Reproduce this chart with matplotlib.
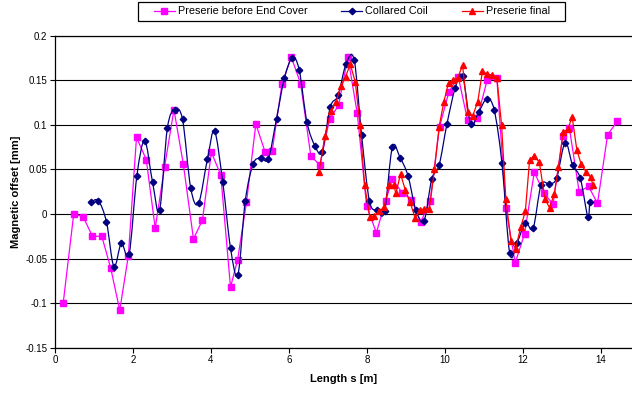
import numpy as np
import matplotlib
matplotlib.use("Agg")
import matplotlib.pyplot as plt
from matplotlib.path import Path
from matplotlib.patches import PathPatch, Rectangle
from matplotlib.lines import Line2D

plt.rcParams['font.family'] = ['Liberation Sans', 'DejaVu Sans']

# Preserie before End Cover
pre_x = [0.21, 0.48, 0.72, 0.96, 1.20, 1.43, 1.66, 1.88, 2.09, 2.34, 2.57, 2.81, 3.05, 3.29,
         3.55, 3.78, 4.01, 4.25, 4.50, 4.68, 4.91, 5.15, 5.39, 5.57, 5.82, 6.06, 6.30, 6.56,
         6.79, 7.04, 7.27, 7.51, 7.75, 7.99, 8.24, 8.48, 8.65, 8.90, 9.14, 9.38, 9.62, 9.86,
         10.10, 10.34, 10.58, 10.83, 11.08, 11.33, 11.56, 11.80, 12.04, 12.29, 12.53, 12.77,
         13.02, 13.19, 13.44, 13.68, 13.91, 14.17, 14.42]
pre_y = [-0.100, 0.000, -0.003, -0.025, -0.025, -0.061, -0.108, -0.047, 0.086, 0.061, -0.016,
         0.053, 0.117, 0.056, -0.028, -0.007, 0.069, 0.044, -0.082, -0.052, 0.013, 0.101, 0.069,
         0.071, 0.146, 0.176, 0.146, 0.065, 0.055, 0.106, 0.122, 0.176, 0.113, 0.009, -0.021,
         0.015, 0.039, 0.024, 0.016, -0.009, 0.015, 0.098, 0.137, 0.154, 0.105, 0.108, 0.150,
         0.152, 0.007, -0.055, -0.022, 0.047, 0.024, 0.011, 0.087, 0.096, 0.025, 0.031, 0.012,
         0.089, 0.104]

# Collared Coil
coil_x = [0.92, 1.11, 1.32, 1.51, 1.70, 1.90, 2.10, 2.30, 2.50, 2.68, 2.88, 3.07, 3.27, 3.48,
          3.68, 3.91, 4.09, 4.30, 4.50, 4.69, 4.88, 5.08, 5.27, 5.47, 5.68, 5.88, 6.08, 6.26,
          6.46, 6.67, 6.85, 7.06, 7.26, 7.46, 7.67, 7.86, 8.06, 8.26, 8.45, 8.65, 8.85, 9.05,
          9.25, 9.46, 9.66, 9.85, 10.05, 10.26, 10.45, 10.66, 10.86, 11.07, 11.26, 11.46, 11.66,
          11.85, 12.06, 12.26, 12.46, 12.67, 12.86, 13.08, 13.27, 13.47, 13.66, 13.71]
coil_y = [0.013, 0.015, -0.009, -0.059, -0.033, -0.045, 0.043, 0.082, 0.036, 0.004, 0.096,
          0.117, 0.106, 0.029, 0.012, 0.062, 0.093, 0.036, -0.038, -0.068, 0.015, 0.056, 0.063,
          0.062, 0.107, 0.152, 0.175, 0.162, 0.103, 0.076, 0.070, 0.120, 0.133, 0.168, 0.173,
          0.089, 0.015, 0.004, 0.003, 0.075, 0.063, 0.043, 0.005, -0.008, 0.039, 0.055, 0.101,
          0.141, 0.155, 0.101, 0.114, 0.129, 0.117, 0.057, -0.044, -0.032, -0.010, -0.016,
          0.032, 0.034, 0.040, 0.080, 0.055, 0.040, -0.003, 0.013]

# Preserie final
fin_x = [6.77, 6.92, 7.08, 7.21, 7.33, 7.45, 7.57, 7.70, 7.82, 7.94, 8.07, 8.19, 8.32, 8.44,
         8.57, 8.69, 8.74, 8.86, 8.98, 9.10, 9.23, 9.35, 9.47, 9.60, 9.73, 9.85, 9.97, 10.09,
         10.21, 10.33, 10.45, 10.58, 10.71, 10.84, 10.96, 11.08, 11.20, 11.33, 11.45, 11.56,
         11.69, 11.81, 11.94, 12.06, 12.17, 12.29, 12.42, 12.56, 12.68, 12.80, 12.91, 13.03,
         13.15, 13.26, 13.38, 13.49, 13.62, 13.74, 13.79]
fin_y = [0.047, 0.087, 0.116, 0.126, 0.144, 0.154, 0.168, 0.148, 0.100, 0.032, -0.003, -0.002,
         0.003, 0.008, 0.033, 0.032, 0.023, 0.045, 0.027, 0.014, -0.004, 0.004, 0.006, 0.006,
         0.050, 0.098, 0.126, 0.147, 0.150, 0.153, 0.167, 0.114, 0.110, 0.126, 0.160, 0.157,
         0.156, 0.153, 0.100, 0.017, -0.030, -0.039, -0.015, 0.003, 0.061, 0.065, 0.058, 0.017,
         0.007, 0.022, 0.053, 0.092, 0.095, 0.109, 0.072, 0.056, 0.047, 0.041, 0.033]

PINK = '#FF00FF'
NAVY = '#000080'
RED = '#FF0000'


def smooth_path(xs, ys):
    # Excel-style smoothed line: bezier segments through every point
    p = np.column_stack([xs, ys])
    n = len(p)
    verts = [p[0]]
    codes = [Path.MOVETO]
    for i in range(n - 1):
        p0 = p[i - 1] if i > 0 else p[i]
        p3 = p[i + 2] if i + 2 < n else p[i + 1]
        c1 = p[i] + (p[i + 1] - p0) / 6.0
        c2 = p[i + 1] - (p3 - p[i]) / 6.0
        verts += [c1, c2, p[i + 1]]
        codes += [Path.CURVE4] * 3
    return Path(verts, codes)


fig = plt.figure(figsize=(6.32, 3.94), dpi=100)
ax = fig.add_axes([55 / 632, 46.3 / 394, 577 / 632, 312 / 394])

ax.plot(pre_x, pre_y, color=PINK, lw=0.9, marker='s', ms=4.0, mec=PINK, mfc=PINK, zorder=3)
ax.add_patch(PathPatch(smooth_path(coil_x, coil_y), fill=False, ec=NAVY, lw=0.9, zorder=4))
ax.plot(coil_x, coil_y, ls='none', marker='D', ms=3.3, mec=NAVY, mfc=NAVY, zorder=4)
ax.plot(fin_x, fin_y, color=RED, lw=0.9, marker='^', ms=4.2, mec=RED, mfc=RED, zorder=5)

ax.set_xlim(0, 577 / 39)
ax.set_ylim(-0.15, 0.2)
ax.set_xticks(np.arange(0, 15, 2))
ax.set_yticks([-0.15, -0.1, -0.05, 0, 0.05, 0.1, 0.15, 0.2])
ax.set_yticklabels(['-0.15', '-0.1', '-0.05', '0', '0.05', '0.1', '0.15', '0.2'])
ax.yaxis.grid(True, color='black', lw=0.8)
ax.set_axisbelow(True)
ax.spines['right'].set_visible(False)
for s in ['left', 'bottom', 'top']:
    ax.spines[s].set_linewidth(0.9)
ax.tick_params(direction='out', length=3.5, width=0.8, labelsize=7, pad=2)

ax.set_xlabel('Length s [m]', fontsize=8, fontweight='bold', labelpad=6)
ax.set_ylabel('Magnetic offset [mm]', fontsize=8, fontweight='bold', labelpad=3)

# legend box drawn separately, entries spread over the inner width
fig.patches.append(Rectangle((137.5 / 632, 1 - 21 / 394), 427 / 632, 19 / 394,
                             transform=fig.transFigure, fill=True, fc='white',
                             ec='black', lw=0.9, zorder=10))
handles = [Line2D([], [], color=PINK, lw=0.9, marker='s', ms=4.0),
           Line2D([], [], color=NAVY, lw=0.9, marker='D', ms=3.3),
           Line2D([], [], color=RED, lw=0.9, marker='^', ms=4.2)]
labels = ['Preserie before End Cover', 'Collared Coil', 'Preserie final']
leg = fig.legend(handles, labels, loc='center',
                 bbox_to_anchor=(154 / 632, 1 - 21 / 394, 396 / 632, 19 / 394),
                 mode='expand', ncol=3, fontsize=7.8, frameon=False, handlelength=1.9,
                 handletextpad=0.3, borderpad=0, borderaxespad=0)
leg.set_zorder(11)

fig.savefig('out.png', dpi=100)
